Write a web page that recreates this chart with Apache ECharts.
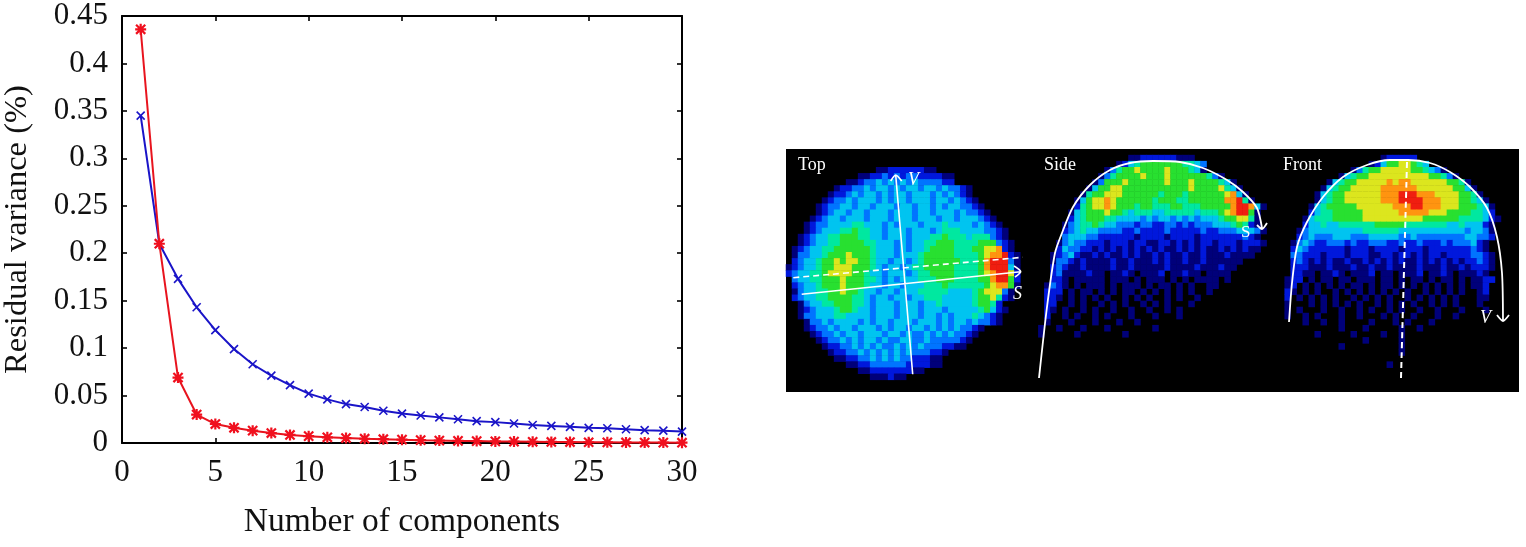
<!DOCTYPE html>
<html><head><meta charset="utf-8">
<script src="https://cdn.jsdelivr.net/npm/echarts@6/dist/echarts.min.js"></script>
<style>html,body{margin:0;padding:0;background:#fff}#c{width:1526px;height:547px}</style>
</head><body><div id="c"></div>
<script>
const components=[1,2,3,4,5,6,7,8,9,10,11,12,13,14,15,16,17,18,19,20,21,22,23,24,25,26,27,28,29,30];
const blueValues=[0.345,0.21,0.173,0.143,0.119,0.099,0.083,0.071,0.061,0.052,0.046,0.041,0.038,0.034,0.031,0.029,0.027,0.025,0.023,0.022,0.0205,0.019,0.018,0.017,0.016,0.0155,0.0145,0.0135,0.013,0.012];
const redValues=[0.436,0.21,0.069,0.03,0.02,0.016,0.013,0.0105,0.0085,0.0072,0.006,0.0052,0.0045,0.004,0.0035,0.003,0.0026,0.0022,0.002,0.0017,0.0015,0.0013,0.0011,0.001,0.0008,0.0007,0.0006,0.0005,0.0004,0.0003];

const topRows=["","","",
"...............1122222211",
"............1122323233222211",
"..........112334343434333322",
"........12233434434344344343321",
".......122343443434434443434321",
"......12334344434344344434434321",
".....1233443443444344344343443321",
".....12344344344434443443444343321",
"....1234434443444344434443443444321",
"...123344445544434344434445444434321",
"...1234445565544344434443455544443321",
"..12344556665544344434445565554555321",
"..123445566665544434344556665555666321",
".1234455666666544434344566665556677821",
".13344566676665444344456666655556788921",
".23445667677665443443456666665556899931",
"123445667776665434434556666655556899941",
"234455677776654434443455666655556789972",
".34455666766655434344455566655556689962",
".23445666766654434434445556555555678861",
".1344556676654434434445555544445677731",
".2344556666554344344344555444445667521",
"..1344556665543444344434454444456652",
"..12344456654434443444344434444456421",
"..1334445544443444344434434344454321",
"...133434444343443444344434344343321",
"...123343443444343443443434343321",
"....1233434434443443433434343321",
".....12334343443433443343333321",
"......122334343433434343332211",
".......12233434343434333221",
"........112233434343322211",
"..........1122333333222211",
"............11222222211",
"..............111211"];

const sideRows=["",
"................11222222111",
"..............124566666665543",
"............13566766667666541",
"...........135666676667666666531",
"..........136667666666766676666541",
".........14667766666666666766667541",
"........1566777666666566656666667841",
".......146778766666656665566666688951",
".......25677876665665556655566666899841",
"......14566676654555445555545556789961",
"......24566655444434344343434445667751",
".....134556544333233223323233344456521",
".....2345443333223222232222232233344431",
".....344433222222122221222212222222321",
"....13433222122212211221212122122212221",
"....2433221212121212121121212112121211",
"...1234211212112121121211211211121111",
"...13321211112112111212112112111111",
"...2321121111211211111211112111211",
"...231111211.1121.1112.11211.1111",
"...221.11111.111.1.111.1.1.1111.1",
"..1321.1.111.1.111.1.11.1.1..11",
"..222.1.11.1.1.11.1.1.1.1.1..1",
"..221.1.1.1.1..1.1.1..1.1..1",
"..22..1.1..1.1.1..1.1.1...1",
"..21.1..1.1..1..1..1..1.1",
"..2..1.1..1.1...1...1...1",
"..1...1...1...1..1",
".1..1...1...1.......1",
".1.....1.......1"];

const frontRows=["",
"..................122222",
"................1246677654",
".............1356677777665431",
"...........14566777777777766531",
".........145667777787887777776651",
"........14566777778888887777776641",
".......1456677777788899988877776651",
".......14566777777888999988877766541",
"......1456666677777788899888777666541",
"......2455666667777778888877766665542",
".....145556666677777777776666665555421",
".....24454455555566666555555544544421",
"....134444444445555554444444444434431",
"....234333444333444443343333333344332",
"...134322333232233322322322232333421",
"...243222222122212222122212222222321",
"...3322212221222112212212122122223321",
"...2321212112112121212112121212122321",
"...2221112111211211211112111211212221",
"...2211.1121.1112.11.1112.1121.11121",
"..122.1.11.11.111.11.1.11.1.11.1.1122",
"..12.1.1.1.1.11.1.11.1.1.1.1.1.1.112",
"..21.1.1..1.1.1.1.1.1.1..1.1.1.1..12",
"..2.1.1.1.1..1.1.1.1..1.1.1.1.1...11",
"..1...1.1.1.1.1..1.1.1.1..1.1.1...1",
"..1.1...1..1..1.1..1.1..1..1...1...1",
"..1..1.1...1..1...1.1..1...1..1",
".....1..1..1....1...1.1...1",
"...........1...1.....1..1",
".......1.....1....1..1",
"...............1.....1",
"...........1.........1",
".....................1",
"",
"...................1"];
const panelOffsets=[0,41,81];
const heatColors=['#000000','#00007a','#0018dc','#0074ff','#00c4f0','#00e8a0','#28e030','#dce61e','#ff9410','#f01e10'];

const topAxisSolid=[[895.7,175],[912.7,374.3],null,[890.7,181],[895.7,175],[901.7,181],null,[801.7,294.3],[1020.7,271.7],null,[1014,266],[1020.7,271.7],[1015,277]];
const topAxisDashed=[[793.3,277.7],[1022.7,257.3]];
const sideCurve=[[1039,378],[1047,307],[1055,253],[1062,233],[1073,207],[1090,185],[1110,170],[1130,163],[1153,161],[1180,162],[1203,168],[1227,180],[1243,192],[1257,208],[1262,228],null,[1257,225],[1262,229],[1267,223]];
const frontCurve=[[1289,322],[1292,283],[1297,247],[1307,222],[1323,197],[1343,177],[1367,165],[1390,160],[1408,160],[1430,163],[1450,172],[1470,187],[1487,208],[1497,237],[1502,273],[1503,320],null,[1497,315],[1503,321],[1509,315]];
const frontDashed=[[1407,162],[1401,378]];
const serif="'Liberation Serif'";

function cells(){
  const out=[];
  [topRows,sideRows,frontRows].forEach((rows,p)=>rows.forEach((row,r)=>{
    for(let c=0;c<row.length;c++){
      const v=+row[c];
      if(v>0) out.push([panelOffsets[p]+c,r,v]);
    }
  }));
  return out;
}
const seq=n=>Array.from({length:n},(_,i)=>i);
const hiddenVal=(g,min,max,inv)=>({type:'value',gridIndex:g,min,max,inverse:!!inv,show:false});
const overlay=(data,dash,w)=>({type:'line',xAxisIndex:3,yAxisIndex:3,data,symbol:'none',silent:true,z:10,connectNulls:false,animation:false,smooth:0.25,
  lineStyle:{color:'#fff',width:w||1.6,type:dash?[6,4]:'solid'}});
const tick={show:true,inside:true,length:5,lineStyle:{color:'#000',width:1.6}};
const aline={show:true,onZero:false,lineStyle:{color:'#000',width:2}};
const txt=(x,y,t,s,it)=>({type:'text',x,y,z:20,style:{text:t,fill:'#fff',font:(it?'italic ':'')+s+'px '+serif}});

const chart=echarts.init(document.getElementById('c'),null,{renderer:'canvas'});
chart.setOption({
  animation:false,backgroundColor:'#fff',
  grid:[
    {left:122,top:16,width:560,height:427,containLabel:false},
    {left:786,top:149,width:733,height:243,show:true,backgroundColor:'#000',borderWidth:0},
    {left:786,top:149,width:733,height:243}
  ],
  xAxis:[
    {type:'value',gridIndex:0,min:0,max:30,interval:5,position:'bottom',name:'Number of components',nameLocation:'middle',nameGap:62,
     nameTextStyle:{fontFamily:serif,fontSize:33.5,color:'#111'},axisLine:aline,axisTick:tick,splitLine:{show:false},
     axisLabel:{fontFamily:serif,fontSize:31,color:'#111',margin:14,hideOverlap:false,showMinLabel:true,showMaxLabel:true}},
    {type:'value',gridIndex:0,min:0,max:30,interval:5,position:'top',axisLine:aline,axisTick:tick,splitLine:{show:false},axisLabel:{show:false}},
    {type:'category',gridIndex:1,data:seq(122),show:false},
    hiddenVal(2,786,1519)
  ],
  yAxis:[
    {type:'value',gridIndex:0,min:0,max:0.45,interval:0.05,name:'Residual variance (%)',nameLocation:'middle',nameGap:88,nameRotate:90,
     nameTextStyle:{fontFamily:serif,fontSize:32.5,color:'#111'},axisLine:aline,axisTick:tick,splitLine:{show:false},
     axisLabel:{fontFamily:serif,fontSize:31,color:'#111',margin:14,showMinLabel:true,showMaxLabel:true,formatter:v=>String(+v.toFixed(2))}},
    {type:'value',gridIndex:0,min:0,max:0.45,interval:0.05,position:'right',axisLine:aline,axisTick:tick,splitLine:{show:false},axisLabel:{show:false}},
    {type:'category',gridIndex:1,data:seq(40),inverse:true,show:false},
    hiddenVal(2,149,392,true)
  ],
  visualMap:{show:false,type:'continuous',min:0,max:9,seriesIndex:0,inRange:{color:heatColors}},
  series:[
    {type:'heatmap',xAxisIndex:2,yAxisIndex:2,data:cells(),silent:true,progressive:0,animation:false},
    {type:'line',name:'Blue',xAxisIndex:0,yAxisIndex:0,data:components.map((c,i)=>[c,blueValues[i]]),z:5,clip:false,
     lineStyle:{color:'#1a14c8',width:2},symbol:'path://M0 0L10 10M10 0L0 10',symbolSize:8,
     itemStyle:{color:'rgba(0,0,0,0)',borderColor:'#1a14c8',borderWidth:1.6}},
    {type:'line',name:'Red',xAxisIndex:0,yAxisIndex:0,data:components.map((c,i)=>[c,redValues[i]]),z:6,clip:false,
     lineStyle:{color:'#e8141e',width:2},symbol:'path://M0 0L10 10M10 0L0 10M5 -1L5 11M-1 5L11 5',symbolSize:11,
     itemStyle:{color:'rgba(0,0,0,0)',borderColor:'#f0101e',borderWidth:2.2}},
    overlay(topAxisSolid),overlay(topAxisDashed,true),overlay(sideCurve,false,1.8),overlay(frontCurve,false,1.8),overlay(frontDashed,true,2)
  ],
  graphic:[
    txt(798,156,'Top',18),txt(1044,156,'Side',18),txt(1283,156,'Front',18),
    txt(908,171,'V',18,true),txt(1013,285,'S',18,true),txt(1241,224,'S',17),txt(1480,309,'V',18,true)
  ]
});
</script></body></html>
